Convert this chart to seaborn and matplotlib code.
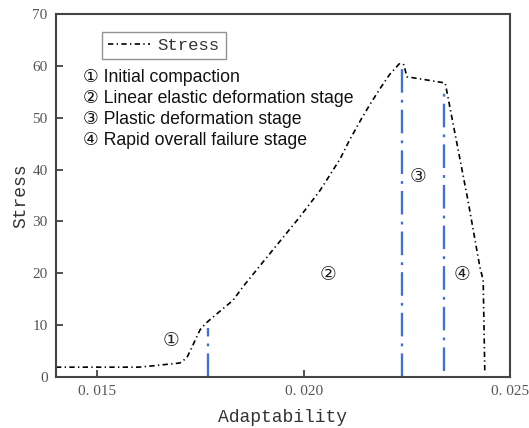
import matplotlib
matplotlib.use("Agg")
import matplotlib.pyplot as plt
import seaborn as sns
import pandas as pd

# Stress-strain curve (strain on x, stress on y)
strain = [0.0140, 0.0150, 0.0160, 0.01628, 0.01676, 0.01700, 0.01717, 0.01732,
          0.01749, 0.01761, 0.01778, 0.01829, 0.01853, 0.01911, 0.01991, 0.02040,
          0.02088, 0.02110, 0.02140, 0.02161, 0.02185, 0.02209, 0.02233, 0.02243,
          0.02250, 0.02343, 0.02398, 0.02427, 0.02435, 0.02439]
stress = [1.9, 1.9, 1.9, 2.1, 2.5, 2.7, 3.7, 6.2,
          9.1, 10.2, 11.4, 14.8, 17.4, 23.1, 30.9, 36.0,
          42.0, 45.5, 49.8, 52.6, 55.6, 58.4, 60.5, 60.2,
          57.9, 56.7, 34.1, 21.2, 18.7, 0.8]

# Stage boundaries
boundary_x = [0.01768, 0.02238, 0.02340]
boundary_top = [9.4, 59.5, 55.9]
boundary_bottom = [0.0, 0.0, 1.2]

# Stage markers placed inside each region
marker_labels = ["①", "②", "③", "④"]
marker_x = [0.01679, 0.02059, 0.02277, 0.02384]
marker_y = [7.1, 19.7, 38.6, 19.7]

stage_names = ["① Initial compaction",
               "② Linear elastic deformation stage",
               "③ Plastic deformation stage",
               "④ Rapid overall failure stage"]

x_ticks = [0.015, 0.020, 0.025]
x_tick_labels = ["0. 015", "0. 020", "0. 025"]
y_ticks = [0, 10, 20, 30, 40, 50, 60, 70]

sns.set_style("ticks")
plt.rcParams["font.family"] = ["Liberation Serif", "DejaVu Serif"]

fig = plt.figure(figsize=(5.29, 4.28), dpi=100)
ax = fig.add_axes([56 / 529, 1 - 377 / 428, 454 / 529, 363 / 428])

df = pd.DataFrame({"Adaptability": strain, "Stress": stress})
sns.lineplot(data=df, x="Adaptability", y="Stress", ax=ax, sort=False,
             estimator=None, color="black", linewidth=1.2,
             linestyle=(0, (3.2, 2.0, 0.8, 2.0)), label="Stress")

ax.vlines(boundary_x, boundary_bottom, boundary_top, colors="#4472C4",
          linewidth=1.7, linestyles=[(0, (10, 3, 1.2, 3))])

for lab, mx, my in zip(marker_labels, marker_x, marker_y):
    ax.text(mx, my, lab, ha="center", va="center", fontsize=13.5,
            family=["DejaVu Sans"], color="#222222")

for i, name in enumerate(stage_names):
    ax.text(0.0595, 0.826 - i * 0.0585, name, transform=ax.transAxes,
            ha="left", va="center", fontsize=12.7,
            family=["Liberation Sans", "DejaVu Sans"], color="#111111")

ax.set_xlim(0.014, 0.025)
ax.set_ylim(0, 70)
ax.set_xticks(x_ticks)
ax.set_xticklabels(x_tick_labels)
ax.set_yticks(y_ticks)
ax.tick_params(direction="in", length=5, width=1.2, colors="#333333",
               labelcolor="#555555", labelsize=11, pad=6)
ax.tick_params(top=False, right=False)

for s in ax.spines.values():
    s.set_visible(True)
    s.set_color("#444444")
    s.set_linewidth(1.5)

ax.set_xlabel("Adaptability", family=["Liberation Mono"], fontsize=13,
              color="#333333", labelpad=8)
ax.set_ylabel("Stress", family=["Liberation Mono"], fontsize=13,
              color="#333333", labelpad=2)

leg = ax.legend(loc="upper left", bbox_to_anchor=(0.101, 0.950), frameon=True,
                fancybox=False, edgecolor="#777777", handlelength=2.4,
                borderpad=0.35, handletextpad=0.45, borderaxespad=0,
                prop={"family": "Liberation Mono", "size": 12.5})
leg.get_frame().set_linewidth(1.0)
for t in leg.get_texts():
    t.set_color("#333333")

fig.savefig("out.png", dpi=100)
